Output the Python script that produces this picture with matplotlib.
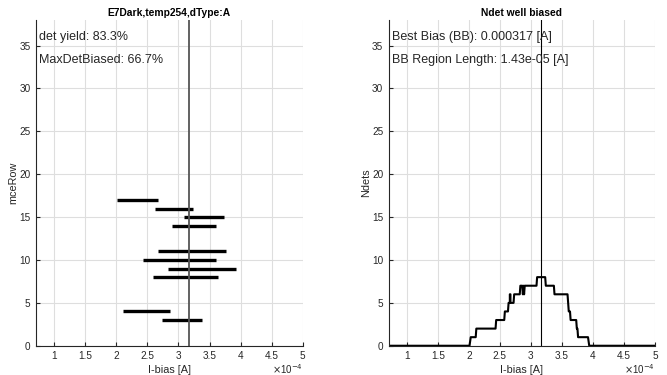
import matplotlib
matplotlib.use('Agg')
import matplotlib.pyplot as plt

plt.rcParams['font.family'] = ['Liberation Sans', 'DejaVu Sans']

# bias ranges per mceRow (units of 1e-4 A)
rows = [17, 16, 15, 14, 11, 10, 9, 8, 4, 3]
bias_lo = [2.02, 2.63, 3.09, 2.90, 2.67, 2.43, 2.84, 2.59, 2.11, 2.74]
bias_hi = [2.67, 3.23, 3.74, 3.61, 3.76, 3.60, 3.92, 3.63, 2.87, 3.38]
best_bias = 3.17

# number of well biased detectors vs bias (units of 1e-4 A)
ndet_x = [0.7, 2.01, 2.03, 2.11, 2.12, 2.43, 2.44, 2.57, 2.58, 2.63, 2.64, 2.66,
          2.66, 2.67, 2.67, 2.72, 2.73, 2.82, 2.83, 2.86, 2.87, 2.88, 2.89, 2.90,
          3.09, 3.10, 3.23, 3.24, 3.37, 3.38, 3.59, 3.61, 3.63, 3.64, 3.73, 3.74,
          3.75, 3.76, 3.92, 3.94, 5.0]
ndet_y = [0, 0, 1, 1, 2, 2, 3, 3, 4, 4, 5, 5,
          6, 6, 5, 5, 6, 6, 7, 7, 6, 7, 6, 7,
          7, 8, 8, 7, 7, 6, 6, 4, 4, 3, 3, 2,
          2, 1, 1, 0, 0]

xticks = [1, 1.5, 2, 2.5, 3, 3.5, 4, 4.5, 5]
xticklabels = ['1', '1.5', '2', '2.5', '3', '3.5', '4', '4.5', '5']
yticks = [0, 5, 10, 15, 20, 25, 30, 35]

fig = plt.figure(figsize=(6.67, 3.75), dpi=100)
ax1 = fig.add_axes([0.054, 0.078, 0.400, 0.869])
ax2 = fig.add_axes([0.583, 0.078, 0.399, 0.869])

txtc = '#262626'
for ax in (ax1, ax2):
    ax.set_xlim(0.71, 5)
    ax.set_ylim(0, 38)
    ax.set_xticks(xticks)
    ax.set_xticklabels(xticklabels)
    ax.set_yticks(yticks)
    ax.grid(True, color='#dedede', linewidth=0.8)
    ax.set_axisbelow(True)
    for s in ('top', 'right'):
        ax.spines[s].set_visible(False)
    for s in ('left', 'bottom'):
        ax.spines[s].set_color(txtc)
        ax.spines[s].set_linewidth(0.8)
    ax.tick_params(direction='in', length=3, width=0.8, colors=txtc,
                   labelsize=7.2, pad=4)
    ax.set_xlabel('I-bias [A]', fontsize=7.8, color=txtc, labelpad=3)
    ax.text(1.0, -0.072, r'$\times$10$^{-4}$', transform=ax.transAxes,
            ha='right', va='center', fontsize=7, color=txtc)

# left: bias windows per row
for r, lo, hi in zip(rows, bias_lo, bias_hi):
    ax1.plot([lo, hi], [r, r], color='black', linewidth=2.4, solid_capstyle='butt')
ax1.axvline(best_bias, color='#555555', linewidth=1.3)
ax1.set_title('E7Dark,temp254,dType:A', fontsize=7.4, fontweight='bold', pad=3)
ax1.set_ylabel('mceRow', fontsize=7.8, color=txtc, labelpad=1)
ax1.text(0.76, 36.0, 'det yield: 83.3%', fontsize=9, va='center', ha='left', color=txtc)
ax1.text(0.76, 33.3, 'MaxDetBiased: 66.7%', fontsize=9, va='center', ha='left', color=txtc)

# right: number of well biased detectors
ax2.plot(ndet_x, ndet_y, color='black', linewidth=1.5)
ax2.axvline(best_bias, color='black', linewidth=0.8)
ax2.set_title('Ndet well biased', fontsize=7.4, fontweight='bold', pad=3)
ax2.set_ylabel('Ndets', fontsize=7.8, color=txtc, labelpad=1)
ax2.text(0.76, 36.0, 'Best Bias (BB): 0.000317 [A]', fontsize=9, va='center', ha='left', color=txtc)
ax2.text(0.76, 33.3, 'BB Region Length: 1.43e-05 [A]', fontsize=9, va='center', ha='left', color=txtc)

fig.savefig('out.png', dpi=100)
